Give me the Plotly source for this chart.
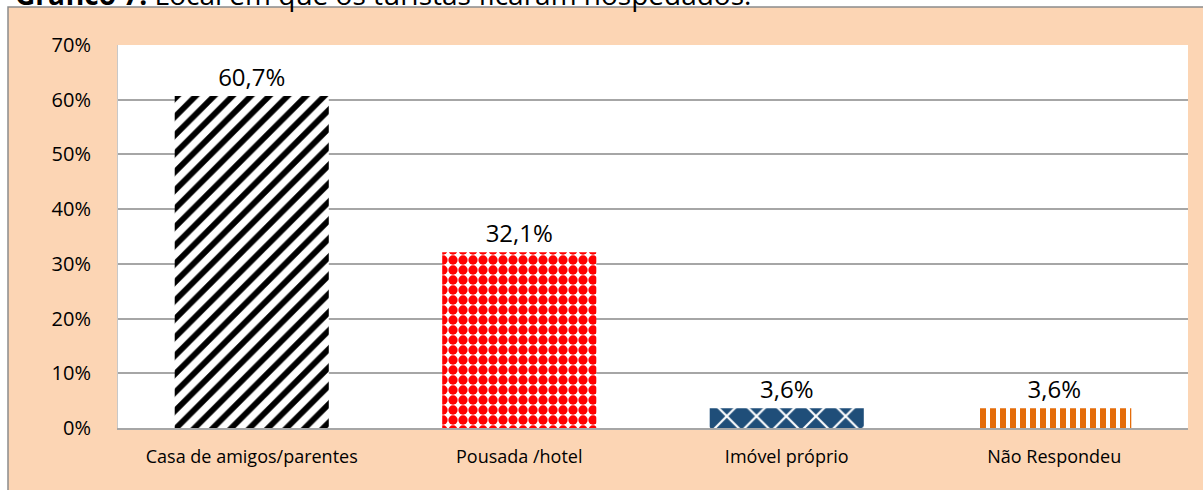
import plotly.graph_objects as go

categories = ["Casa de amigos/parentes", "Pousada /hotel", "Imóvel próprio", "Não Respondeu"]
values = [60.7, 32.1, 3.6, 3.6]
labels = ["60,7%", "32,1%", "3,6%", "3,6%"]
y_ticks = [0, 10, 20, 30, 40, 50, 60, 70]
y_tick_text = ["0%", "10%", "20%", "30%", "40%", "50%", "60%", "70%"]

fg_colors = ["#000000", "#FF0000", "#FFFFFF", "#E46C0A"]
bg_colors = ["#FFFFFF", "#FFFFFF", "#1F4E79", "#FFFFFF"]
shapes_pat = ["/", ".", "x", "|"]
sizes = [13, 10, 21, 10]
solidity = [0.45, 0.68, 0.2, 0.6]

FONT = "Open Sans"
W, H = 1203, 490
ml, mr, mt, mb = 118, 15, 45, 62
pw, ph = W - ml - mr, H - mt - mb

def px_x(p):
    return (p - ml) / pw

def px_y(p):
    return (H - mb - p) / ph

fig = go.Figure()
fig.add_trace(go.Bar(
    x=categories,
    y=values,
    text=labels,
    textposition="outside",
    textfont=dict(size=24, color="#000000", family=FONT),
    cliponaxis=False,
    width=0.576,
    marker=dict(
        color="#FFFFFF",
        line=dict(width=0),
        pattern=dict(
            shape=shapes_pat,
            fgcolor=fg_colors,
            bgcolor=bg_colors,
            fgopacity=1,
            size=sizes,
            solidity=solidity,
            fillmode="replace",
        ),
    ),
))

fig.add_shape(
    type="rect", xref="paper", yref="paper", layer="below",
    x0=px_x(8), x1=px_x(1215), y0=px_y(500), y1=px_y(7),
    fillcolor="#FCD5B4", line=dict(color="#8C8C8C", width=1.5),
)
fig.add_shape(
    type="rect", xref="paper", yref="paper", layer="below",
    x0=0, x1=1, y0=0, y1=1,
    fillcolor="#FFFFFF", line=dict(width=0),
)

fig.add_annotation(
    xref="paper", yref="paper", x=px_x(13), y=px_y(15),
    xanchor="left", yanchor="bottom", showarrow=False,
    text="<b>Gráfico 7:</b> Local em que os turistas ficaram hospedados.",
    font=dict(size=28, color="#000000", family=FONT),
)

fig.update_layout(
    width=W, height=H,
    margin=dict(l=ml, r=mr, t=mt, b=mb, autoexpand=False),
    paper_bgcolor="#FFFFFF",
    plot_bgcolor="rgba(0,0,0,0)",
    showlegend=False,
    font=dict(family=FONT, color="#000000"),
)
fig.update_yaxes(
    range=[0, 70],
    tickvals=y_ticks,
    ticktext=y_tick_text,
    tickfont=dict(size=20, color="#000000"),
    showgrid=True, gridcolor="#A6A6A6", gridwidth=1.5,
    showline=True, linecolor="#C8C8C8", linewidth=1,
    zeroline=False,
    ticks="", ticklabelstandoff=22,
)
fig.update_xaxes(
    tickfont=dict(size=18, color="#000000"),
    showline=True, linecolor="#A6A6A6", linewidth=1.5,
    ticks="", ticklabelstandoff=12,
)

fig.write_html(
    "out.html",
    config={"displayModeBar": False},
    post_script="document.body.style.margin='0';document.body.style.overflow='hidden';",
)
